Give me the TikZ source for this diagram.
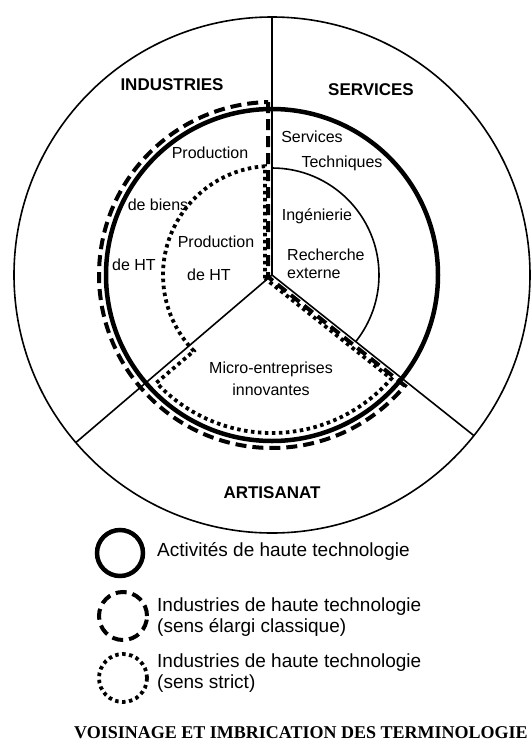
\documentclass[tikz,border=0pt]{standalone}
\usepackage{fontspec}
\setmainfont{Liberation Sans}
\newfontfamily\policetitre{Liberation Serif}
\usetikzlibrary{calc}
\tikzstyle{contour}=[line width=1.6pt]
\tikzstyle{trait-ht}=[line width=4.5pt]
\tikzstyle{trait-large}=[line width=4pt, dash pattern=on 11pt off 6pt]
\tikzstyle{trait-strict}=[line width=3.8pt, dash pattern=on 3.5pt off 3.5pt]
\tikzstyle{secteur}=[font={\fontsize{17pt}{20}\selectfont\bfseries}, inner sep=0pt]
\tikzstyle{etiquette}=[font={\fontsize{16pt}{18}\selectfont}, inner sep=0pt]
\tikzstyle{legende}=[font={\fontsize{19pt}{21}\selectfont}, anchor=west, align=left, inner sep=0pt]

\begin{document}
\begin{tikzpicture}[x=1pt, y=1pt]
        \useasboundingbox (0,-742) rectangle (531,0);
        \coordinate (c) at (272,-275);
        % cercle exterieur et secteurs
        \draw[contour] (c) circle[radius=258];
        \draw[contour] (c) -- ++(90:258);
        \draw[contour] (c) -- ++(220.5:258);
        \draw[contour] (c) -- ++(321.5:258);
        % activites de haute technologie
        \draw[trait-ht] (c) circle[radius=166];
        % ingenierie, recherche externe
        \draw[contour] ($(c)+(90:107)$) arc[start angle=90, end angle=-38.5, radius=107];
        % sens elargi classique
        \draw[trait-large] ($(c)+(91.3:173)$) -- ($(c)+(-4,-1.9)$) -- ($(c)+(320.2:173)$)
            arc[start angle=320.2, end angle=91.3, radius=173] -- cycle;
        % sens strict
        \draw[trait-strict] ($(c)+(-7,-3.4)$) -- ($(c)+(93.7:109)$)
            arc[start angle=93.7, end angle=224.2, radius=109] -- ($(c)+(223:158)$)
            arc[start angle=223, end angle=319, radius=158] -- cycle;
        %
        \node[secteur] (industries) at (172,-85) {INDUSTRIES};
        \node[secteur] (services) at (371,-90) {SERVICES};
        \node[secteur] (artisanat) at (272,-493) {ARTISANAT};

        \node[etiquette] (prod-biens) at (210,-153) {Production};
        \node[etiquette] (de-biens) at (158,-205) {de biens};
        \node[etiquette] (de-ht) at (134,-265) {de HT};
        \node[etiquette] (prod-ht) at (216,-242) {Production};
        \node[etiquette] (de-ht-strict) at (209,-275) {de HT};

        \node[etiquette] (serv) at (312,-137) {Services};
        \node[etiquette] (tech) at (342,-163) {Techniques};
        \node[etiquette] (inge) at (317,-216) {Ingénierie};
        \node[etiquette, anchor=west, align=left] (rech) at (287,-263.5) {Recherche\\externe};
        \node[etiquette, align=center, font={\fontsize{16pt}{22}\selectfont}] (micro) at (271,-379) {Micro-entreprises\\innovantes};
        % legende
        \draw[trait-ht] (120,-553) circle[radius=23];
        \draw[trait-large] (123,-616) circle[radius=24];
        \draw[trait-strict] (123,-678) circle[radius=24];
        \node[legende] (leg-ht) at (157,-551) {Activités de haute technologie};
        \node[legende] (leg-large) at (157,-617.5) {Industries de haute technologie\\(sens élargi classique)};
        \node[legende] (leg-strict) at (157,-673) {Industries de haute technologie\\(sens strict)};

        \node[anchor=west, inner sep=0pt, font={\policetitre\fontsize{18pt}{20}\selectfont\bfseries}] (titre) at (74,-733) {VOISINAGE ET IMBRICATION DES TERMINOLOGIE};
    \end{tikzpicture}
\end{document}
